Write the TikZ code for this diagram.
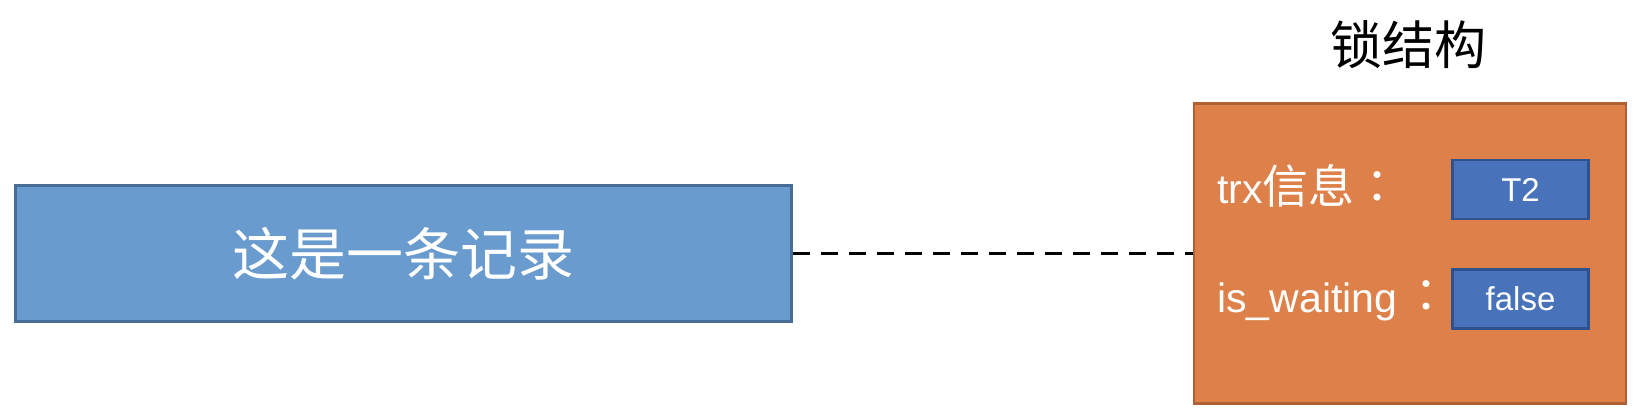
\documentclass[tikz,border=0pt]{standalone}
\usepackage{fontspec}
\setmainfont{Liberation Sans}
\newfontfamily\cjk{Noto Sans CJK SC}
\newfontfamily\cjktc{Noto Sans CJK TC}
\definecolor{recfill}{RGB}{106,155,206}
\definecolor{recdraw}{RGB}{72,110,152}
\definecolor{lockfill}{RGB}{221,128,73}
\definecolor{lockdraw}{RGB}{176,96,50}
\definecolor{valfill}{RGB}{72,114,186}
\definecolor{valdraw}{RGB}{47,82,143}
\tikzset{
  recbox/.style={draw=recdraw, fill=recfill, line width=2.5pt, minimum width=776pt, minimum height=136pt, inner sep=0pt, text=white},
  lockbox/.style={draw=lockdraw, fill=lockfill, line width=2.5pt, minimum width=432pt, minimum height=300pt, inner sep=0pt},
  valbox/.style={draw=valdraw, fill=valfill, line width=2.5pt, minimum width=136pt, minimum height=59pt, inner sep=0pt, text=white, font=\fontsize{33}{36}\selectfont},
  fieldlabel/.style={anchor=base west, inner sep=0pt, text=white, font=\fontsize{41}{46}\selectfont},
  link/.style={line width=3.5pt, dash pattern=on 17pt off 11pt}
}
\begin{document}
\begin{tikzpicture}[x=1pt,y=-1pt]
\useasboundingbox[fill=white] (0,0) rectangle (1638,418);
\node[recbox] (rec) at (403.7,253.5) {\cjk\fontsize{57}{60}\selectfont 这是一条记录};
\node[lockbox] (lock) at (1410,253.5) {};
\node[inner sep=0pt, font=\cjk\fontsize{52}{56}\selectfont] (title) at (1408,45) {锁结构};
\node[fieldlabel] (trx) at (1217,203) {trx{\cjk\fontsize{46}{50}\selectfont 信息}{\cjktc\fontsize{46}{50}\selectfont ：}};
\node[fieldlabel] (wait) at (1217,312) {is\_waiting\hspace{6pt}{\cjktc\fontsize{46}{50}\selectfont ：}};
\node[valbox] (t2) at (1520.5,189.5) {T2};
\node[valbox] (false) at (1520.5,299) {false};
\draw[link] (rec.east) -- (lock.west);
\end{tikzpicture}
\end{document}
